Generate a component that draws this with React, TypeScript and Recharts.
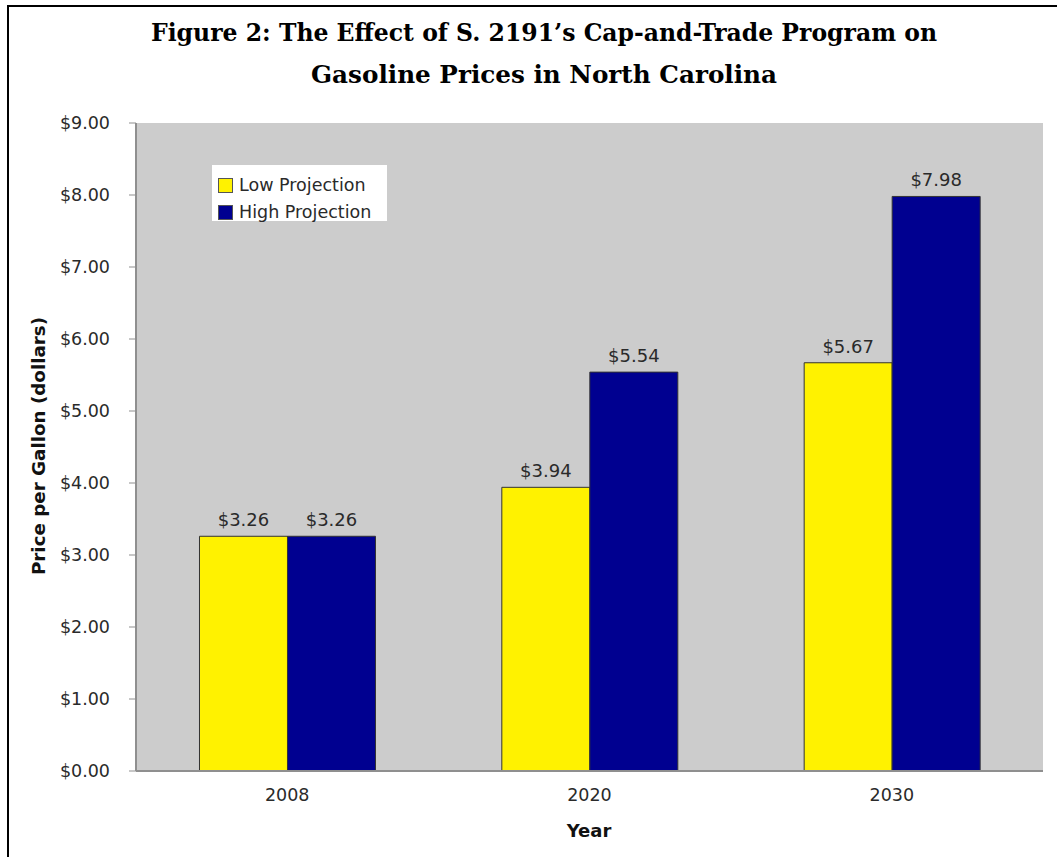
import React from 'react';
import { BarChart, Bar, XAxis, YAxis, CartesianGrid, LabelList } from 'recharts';

const years = ['2008', '2020', '2030'];
const lowProjection = [3.26, 3.94, 5.67];
const highProjection = [3.26, 5.54, 7.98];
const yTicks = [0, 1, 2, 3, 4, 5, 6, 7, 8, 9];
const seriesNames = ['Low Projection', 'High Projection'];
const titleLines = [
  'Figure 2: The Effect of S. 2191\u2019s Cap-and-Trade Program on',
  'Gasoline Prices in North Carolina',
];
const yAxisTitle = 'Price per Gallon (dollars)';
const xAxisTitle = 'Year';

const data = years.map((y, i) => ({ year: y, low: lowProjection[i], high: highProjection[i] }));

const LOW = '#fff200';
const HIGH = '#000090';
const FONT = '"DejaVu Sans", Verdana, sans-serif';
const TXT = '#2a2a2a';
const AXIS = '#8f8f8f';

const money = (v: number) => `$${Number(v).toFixed(2)}`;

const LegendBox = () => (
  <div
    style={{
      position: 'absolute',
      left: 212,
      top: 165,
      background: '#ffffff',
      width: 175,
      height: 56,
      boxSizing: 'border-box',
      paddingLeft: 6,
      paddingTop: 7,
      fontFamily: FONT,
      fontSize: 17.5,
      color: TXT,
      whiteSpace: 'nowrap',
    }}
  >
    {seriesNames.map((n, i) => (
      <div key={n} style={{ display: 'flex', alignItems: 'center', height: 27 }}>
        <div
          style={{
            width: 15,
            height: 15,
            background: i === 0 ? LOW : HIGH,
            border: '1px solid #555',
            boxSizing: 'border-box',
            marginRight: 6,
            flexShrink: 0,
          }}
        />
        <span style={{ lineHeight: '15px' }}>{n}</span>
      </div>
    ))}
  </div>
);

export default function App() {
  return (
    <div style={{ position: 'absolute', left: 0, top: 0, width: 1057, height: 857, background: '#fff', overflow: 'hidden' }}>
      <div style={{ position: 'absolute', left: 7, top: 5, width: 2, height: 852, background: '#000' }} />
      <div style={{ position: 'absolute', left: 7, top: 5, width: 1050, height: 2, background: '#000' }} />
      <svg width={1057} height={110} style={{ position: 'absolute', left: 0, top: 0 }}>
        <text
          x={544}
          y={41}
          textAnchor="middle"
          fontFamily='"DejaVu Serif", serif'
          fontWeight="bold"
          fontSize={25}
          textLength={786}
          lengthAdjust="spacingAndGlyphs"
          fill="#000"
        >
          {titleLines[0]}
        </text>
        <text
          x={544}
          y={83}
          textAnchor="middle"
          fontFamily='"DejaVu Serif", serif'
          fontWeight="bold"
          fontSize={25}
          textLength={466}
          lengthAdjust="spacingAndGlyphs"
          fill="#000"
        >
          {titleLines[1]}
        </text>
      </svg>
      <div style={{ position: 'absolute', left: 0, top: 0 }}>
        <BarChart
          width={1057}
          height={857}
          data={data}
          margin={{ top: 123, right: 14, bottom: 26, left: 10 }}
          barCategoryGap="21%"
          barGap={0}
        >
          <CartesianGrid fill="#cccccc" horizontal={false} vertical={false} stroke="none" />
          <XAxis
            dataKey="year"
            height={60}
            tickLine={false}
            tickSize={0}
            tickMargin={18}
            axisLine={{ stroke: AXIS, strokeWidth: 2 }}
            tick={{ fill: TXT, fontFamily: FONT, fontSize: 17.5 }}
            label={{
              value: xAxisTitle,
              content: () => (
                <text x={589} y={837} textAnchor="middle" fontFamily={FONT} fontWeight="bold" fontSize={18} fill="#111">
                  {xAxisTitle}
                </text>
              ),
            }}
          />
          <XAxis xAxisId="top" orientation="top" dataKey="year" height={0} tick={false} tickLine={false} axisLine={{ stroke: AXIS, strokeWidth: 2 }} />
          <YAxis
            width={126}
            domain={[0, 9]}
            ticks={yTicks}
            tickFormatter={money}
            tickSize={7}
            tickMargin={19}
            tickLine={{ stroke: AXIS }}
            axisLine={{ stroke: AXIS, strokeWidth: 2 }}
            tick={{ fill: TXT, fontFamily: FONT, fontSize: 17.5 }}
            label={{
              value: yAxisTitle,
              content: () => (
                <text
                  x={38}
                  y={446}
                  transform="rotate(-90 38 446)"
                  textAnchor="middle"
                  dominantBaseline="central"
                  fontFamily={FONT}
                  fontWeight="bold"
                  fontSize={18.3}
                  fill="#111"
                >
                  {yAxisTitle}
                </text>
              ),
            }}
          />
          <YAxis yAxisId="right" orientation="right" width={0} tick={false} tickLine={false} axisLine={{ stroke: AXIS, strokeWidth: 2 }} />
          <Bar dataKey="low" name={seriesNames[0]} fill={LOW} stroke="#333" strokeWidth={1} isAnimationActive={false}>
            <LabelList dataKey="low" position="top" offset={10} formatter={money} fill={TXT} fontFamily={FONT} fontSize={18} />
          </Bar>
          <Bar dataKey="high" name={seriesNames[1]} fill={HIGH} stroke="#333" strokeWidth={1} isAnimationActive={false}>
            <LabelList dataKey="high" position="top" offset={10} formatter={money} fill={TXT} fontFamily={FONT} fontSize={18} />
          </Bar>
        </BarChart>
      </div>
      <LegendBox />
    </div>
  );
}
